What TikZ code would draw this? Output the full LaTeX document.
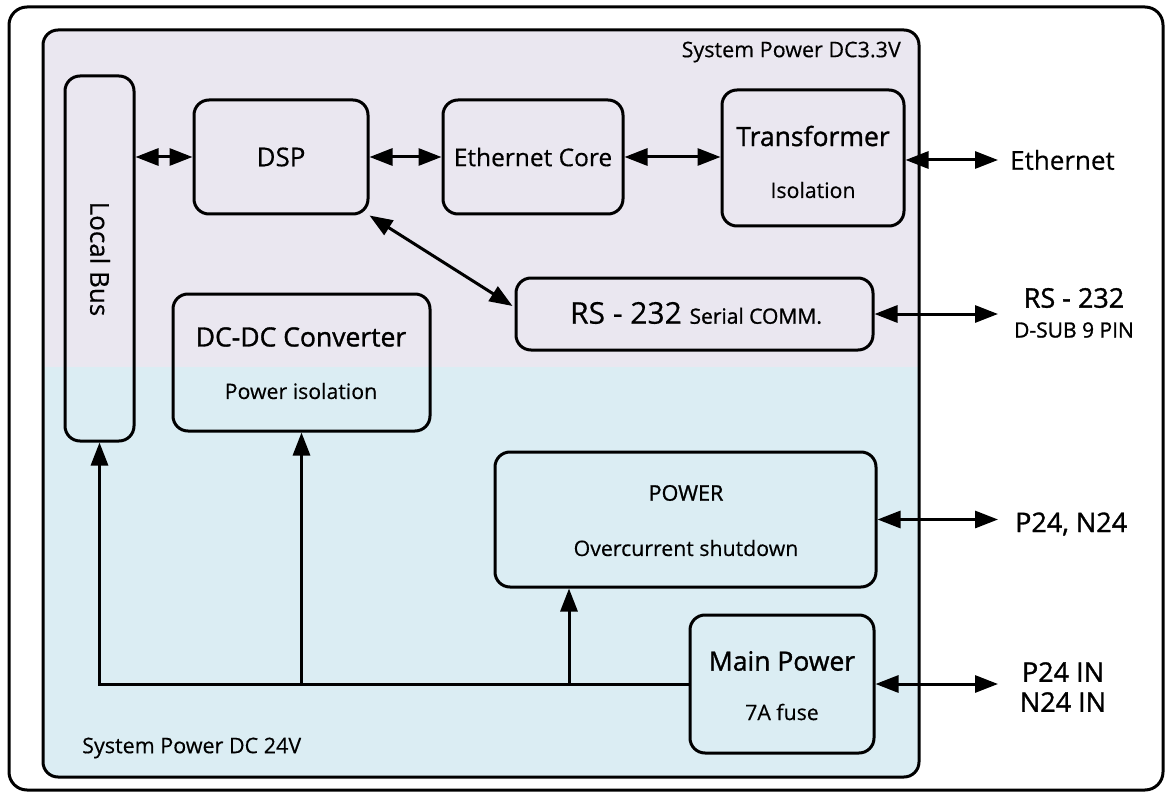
\documentclass[tikz,border=0pt]{standalone}
\usepackage{fontspec}
\setmainfont[FakeBold=0.4]{Open Sans}
\newfontfamily\semib[FakeBold=1.2]{Open Sans}
\usetikzlibrary{arrows.meta,calc}
\definecolor{topc}{RGB}{234,231,240}
\definecolor{botc}{RGB}{219,237,243}
\begin{document}
\begin{tikzpicture}[x=1pt,y=-1pt,
  box/.style={draw,line width=3pt,rounded corners=15pt,inner sep=0pt},
  tip/.tip={Triangle[length=23pt,width=17pt]},
  dbl/.style={line width=3pt,tip-tip},
  uparr/.style={line width=3pt,-tip},
  big/.style={font=\fontsize{26}{30}\selectfont,inner sep=0pt},
  ttl/.style={font=\semib\fontsize{26.5}{30}\selectfont,inner sep=0pt},
  sub/.style={font=\fontsize{21.3}{24}\selectfont,inner sep=0pt},
  hdr/.style={font=\fontsize{21.5}{24}\selectfont,inner sep=0pt},
  ext/.style={font=\semib\fontsize{27}{30}\selectfont,inner sep=0pt},
  extsub/.style={font=\semib\fontsize{21}{24}\selectfont,inner sep=0pt}]
\useasboundingbox (0,0) rectangle (1171,797);
% frames
\draw[line width=3pt,rounded corners=18pt] (9,7) rectangle (1163,790);
\begin{scope}
  \clip[rounded corners=15pt] (43,30) rectangle (919,777);
  \fill[topc] (43,30) rectangle (919,367);
  \fill[botc] (43,367) rectangle (919,777);
\end{scope}
\draw[line width=3pt,rounded corners=15pt] (43,30) rectangle (919,777);
\node[hdr,anchor=east] (h33) at (901,52) {System Power DC3.3V};
\node[hdr,anchor=west] (h24) at (82,748) {System Power DC 24V};
% boxes
\node[box,minimum width=69pt,minimum height=365pt] (lb) at (99.5,258.5) {};
\node[big,rotate=-90] (lbt) at (100,259) {Local Bus};
\node[box,big,minimum width=174pt,minimum height=114pt] (dsp) at (281,157) {DSP};
\node[box,big,font=\fontsize{24.5}{28}\selectfont,minimum width=180pt,minimum height=114pt] (ec) at (533,157) {Ethernet Core};
\node[box,minimum width=182pt,minimum height=136pt] (tr) at (813,158) {};
\node[ttl] (trt) at (813,136) {Transformer};
\node[sub] (trs) at (813,190) {Isolation};
\node[box,minimum width=357pt,minimum height=72pt] (rs) at (694.5,314) {};
\node[inner sep=0pt] (rst) at (696,313) {\fontsize{30}{32}\selectfont RS - 232 \fontsize{21}{24}\selectfont\semib Serial COMM.};
\node[box,minimum width=257pt,minimum height=137pt] (dc) at (301.5,362.5) {};
\node[ttl] (dct) at (301,337) {DC-DC Converter};
\node[sub] (dcs) at (301,391) {Power isolation};
\node[box,minimum width=381pt,minimum height=135pt] (pw) at (685.5,519.5) {};
\node[font=\semib\fontsize{21.5}{24}\selectfont,inner sep=0pt] (pwt) at (686,493) {POWER};
\node[sub] (pws) at (686,548) {Overcurrent shutdown};
\node[box,minimum width=184pt,minimum height=138pt] (mp) at (782,684) {};
\node[ttl] (mpt) at (782,661) {Main Power};
\node[sub] (mps) at (782,712) {7A fuse};
% external labels
\coordinate (xend) at (998,0);
\coordinate (pwx) at (569,0);
\node[big,anchor=west] (eth) at (1010,160) {Ethernet};
\node[ext] (rsx) at (1074,298) {RS - 232};
\node[extsub] (dsub) at (1074,330) {D-SUB 9 PIN};
\node[ext,anchor=west] (p24) at (1015,524) {P24, N24};
\node[ext] (p24in) at (1063,672) {P24 IN};
\node[ext] (n24in) at (1063,702) {N24 IN};
% connectors
\draw[dbl] (dsp.west -| lb.east) -- (dsp.west);
\draw[dbl] (dsp.east) -- (ec.west);
\draw[dbl] (ec.east) -- (tr.west |- ec.east);
\draw[dbl] ([yshift=-2pt]tr.east) -- ([yshift=-2pt]tr.east -| xend);
\draw[dbl] (dsp.south east) -- ($(rs.west)+(-2,-8)$);
\draw[dbl] (rs.east) -- (rs.east -| xend);
\draw[dbl] (pw.east) -- (pw.east -| xend);
\draw[dbl] (mp.east) -- (mp.east -| xend);
\draw[uparr] (mp.west) -- (mp.west -| lb.south) -- (lb.south);
\draw[uparr] (mp.west -| dc.south) -- (dc.south);
\draw[uparr] (mp.west -| pwx) -- (pwx |- pw.south);
\end{tikzpicture}
\end{document}
